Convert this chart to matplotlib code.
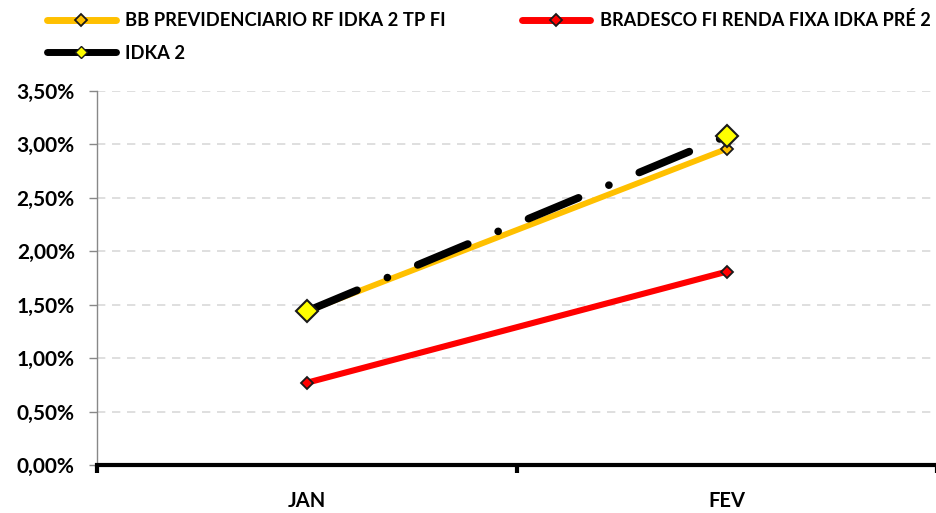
import matplotlib
matplotlib.use("Agg")
import matplotlib.pyplot as plt
from matplotlib.ticker import FuncFormatter, FixedLocator
from matplotlib.lines import Line2D

categories = ["JAN", "FEV"]
bb_prev = [1.44, 2.96]
bradesco = [0.77, 1.81]
idka2 = [1.44, 3.08]
yticks = [0.0, 0.5, 1.0, 1.5, 2.0, 2.5, 3.0, 3.5]
labels = ['BB PREVIDENCIARIO RF IDKA 2 TP FI', 'BRADESCO FI RENDA FIXA IDKA PRÉ 2', 'IDKA 2']

plt.rcParams['font.family'] = ['Lato', 'DejaVu Sans']
fig = plt.figure(figsize=(9.37, 5.13), dpi=100)
ax = fig.add_axes([97/937, 1-465/513, 1-97/937, (465-91)/513])

x = [0, 1]
ax.plot(x, bb_prev, color='#FFC000', lw=4.2, marker='D', ms=6.5, mfc='#FFC000', mec='#1a1a1a', mew=1.3,
        zorder=3, solid_capstyle='butt')
ax.plot(x, bradesco, color='#FF0000', lw=4.4, marker='D', ms=6.5, mfc='#FF0000', mec='#1a1a1a', mew=1.3,
        zorder=3, solid_capstyle='butt')
ax.plot(x, idka2, color='black', lw=5.5, dashes=(7.1, 4.3, 0.01, 4.3), dash_capstyle='round',
        marker='D', ms=11.7, mfc='#FFFF00', mec='#1a1a1a', mew=1.5, zorder=4)

ax.set_xlim(-0.5, 1.5)
ax.set_ylim(0, 3.5)
ax.yaxis.set_major_locator(FixedLocator(yticks))
ax.yaxis.set_major_formatter(FuncFormatter(lambda v, p: f"{v:.2f}".replace('.', ',') + '%'))
ax.set_xticks(x)
ax.set_xticklabels(categories)
ax.xaxis.set_minor_locator(FixedLocator([-0.5, 0.5, 1.5]))
ax.tick_params(axis='x', which='major', length=0, pad=19, labelsize=14.5)
ax.tick_params(axis='x', which='minor', length=6, width=3, direction='out', color='black')
ax.tick_params(axis='y', length=6, width=1, color='#888888', labelsize=15, pad=10)
for lab in ax.get_xticklabels() + ax.get_yticklabels():
    lab.set_fontweight('bold')

ax.grid(axis='y', color='#d9d9d9', linestyle=(0, (5, 4)), lw=1.2)
ax.set_axisbelow(True)
for s in ['top', 'right']:
    ax.spines[s].set_visible(False)
ax.spines['left'].set_color('#888888')
ax.spines['left'].set_linewidth(1)
ax.spines['bottom'].set_color('black')
ax.spines['bottom'].set_linewidth(3)

h1 = Line2D([], [], color='#FFC000', lw=5, marker='D', ms=6, mfc='#FFC000', mec='#1a1a1a', mew=1.3, solid_capstyle='round')
h2 = Line2D([], [], color='#FF0000', lw=5, marker='D', ms=6, mfc='#FF0000', mec='#1a1a1a', mew=1.3, solid_capstyle='round')
h3 = Line2D([], [], color='black', lw=5, marker='D', ms=6, mfc='#FFFF00', mec='#1a1a1a', mew=1.0, solid_capstyle='round')
leg = fig.legend([h1, h3, h2], [labels[0], labels[2], labels[1]], ncol=2, loc='upper left',
                 bbox_to_anchor=(36/937, 1.0), frameon=False, handlelength=3.75,
                 prop={'weight': 'bold', 'size': 13.2}, columnspacing=4.15, labelspacing=0.85,
                 handletextpad=0.5, borderaxespad=0.2)
leg.get_texts()[2].set_fontsize(13.1)

fig.savefig('out.png', dpi=100)
